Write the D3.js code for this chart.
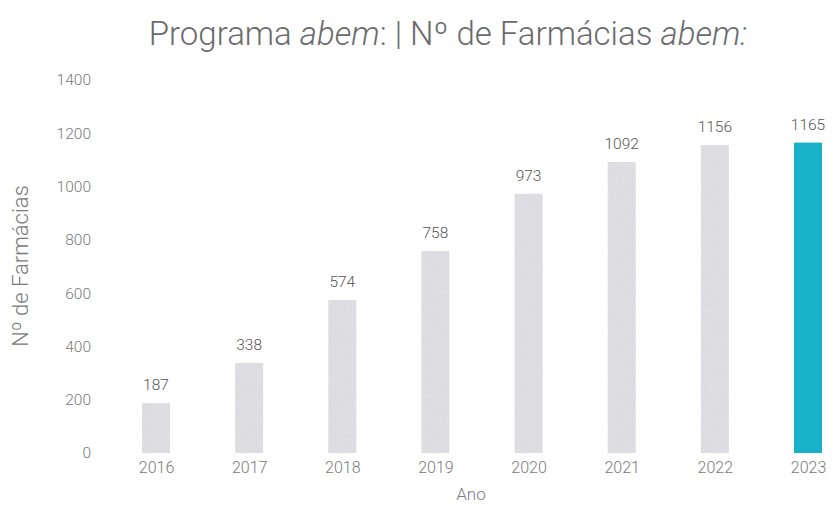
<!DOCTYPE html>
<html>
<head>
<meta charset="utf-8">
<script src="https://cdn.jsdelivr.net/npm/d3@7"></script>
<style>
  body { margin: 0; background: #fff; }
  text { font-family: Roboto, "Liberation Sans", sans-serif; }
</style>
</head>
<body>
<div id="chart"></div>
<script>
// dados
const years = ['2016', '2017', '2018', '2019', '2020', '2021', '2022', '2023'];
const pharmacies = [187, 338, 574, 758, 973, 1092, 1156, 1165];
const yTicks = [0, 200, 400, 600, 800, 1000, 1200, 1400];
const highlightYear = '2023';

const W = 832, H = 527;
const barWidth = 28;

const svg = d3.select('#chart').append('svg')
  .attr('width', W)
  .attr('height', H);

// textura leve nas barras cinzentas
const defs = svg.append('defs');
const filter = defs.append('filter').attr('id', 'grain');
filter.append('feTurbulence')
  .attr('type', 'fractalNoise')
  .attr('baseFrequency', 0.9)
  .attr('numOctaves', 2)
  .attr('seed', 3)
  .attr('result', 'noise');
filter.append('feColorMatrix')
  .attr('in', 'noise')
  .attr('type', 'matrix')
  .attr('values', '0 0 0 0 0  0 0 0 0 0  0 0 0 0 0  0 0 0 0.12 0')
  .attr('result', 'dots');
filter.append('feComposite')
  .attr('in', 'dots')
  .attr('in2', 'SourceGraphic')
  .attr('operator', 'in')
  .attr('result', 'masked');
const merge = filter.append('feMerge');
merge.append('feMergeNode').attr('in', 'SourceGraphic');
merge.append('feMergeNode').attr('in', 'masked');

// escalas (centros das barras)
const x = d3.scalePoint().domain(years).range([156, 808]);
const y = d3.scaleLinear().domain([0, 1400]).range([453, 80]);

// eixo y (só os rótulos)
const yAxis = svg.append('g')
  .attr('transform', 'translate(91,0)')
  .call(d3.axisLeft(y).tickValues(yTicks).tickFormat(d3.format('d')).tickSize(0).tickPadding(0));
yAxis.select('.domain').remove();
yAxis.selectAll('text')
  .attr('fill', '#7a7a7a')
  .style('font-size', '15.5px')
  .style('font-weight', 300);

// eixo x
const xAxis = svg.append('g')
  .attr('transform', 'translate(0,453)')
  .call(d3.axisBottom(x).tickSize(0).tickPadding(9));
xAxis.select('.domain').remove();
xAxis.selectAll('text')
  .attr('fill', '#7a7a7a')
  .style('font-size', '16px')
  .style('font-weight', 300);

// barras
svg.selectAll('.bar')
  .data(years)
  .enter()
  .append('rect')
  .attr('class', 'bar')
  .attr('x', d => x(d) - barWidth / 2)
  .attr('width', barWidth)
  .attr('y', (d, i) => y(pharmacies[i]))
  .attr('height', (d, i) => y(0) - y(pharmacies[i]))
  .attr('fill', d => d === highlightYear ? '#18b1c8' : '#e3e3e8')
  .attr('filter', d => d === highlightYear ? null : 'url(#grain)');

// rótulos de valor
svg.selectAll('.value')
  .data(years)
  .enter()
  .append('text')
  .attr('class', 'value')
  .attr('x', d => x(d))
  .attr('y', (d, i) => y(pharmacies[i]) - 13)
  .attr('text-anchor', 'middle')
  .attr('fill', '#555')
  .style('font-size', '15.5px')
  .style('font-weight', 300)
  .text((d, i) => pharmacies[i]);

// títulos dos eixos
svg.append('text')
  .attr('x', 471)
  .attr('y', 500)
  .attr('text-anchor', 'middle')
  .attr('fill', '#7a7a8a')
  .style('font-size', '17px')
  .style('font-weight', 300)
  .text('Ano');

svg.append('text')
  .attr('transform', 'rotate(-90)')
  .attr('x', -266)
  .attr('y', 28)
  .attr('text-anchor', 'middle')
  .attr('fill', '#7a7a7a')
  .style('font-size', '22px')
  .style('font-weight', 300)
  .text('Nº de Farmácias');

// título
const title = svg.append('text')
  .attr('x', 448)
  .attr('y', 45)
  .attr('text-anchor', 'middle')
  .attr('fill', '#6b6b6b')
  .style('font-size', '33px')
  .style('font-weight', 300);
title.append('tspan').text('Programa ');
title.append('tspan').style('font-style', 'italic').text('abem');
title.append('tspan').text(': | Nº de Farmácias ');
title.append('tspan').style('font-style', 'italic').text('abem:');
</script>
</body>
</html>
